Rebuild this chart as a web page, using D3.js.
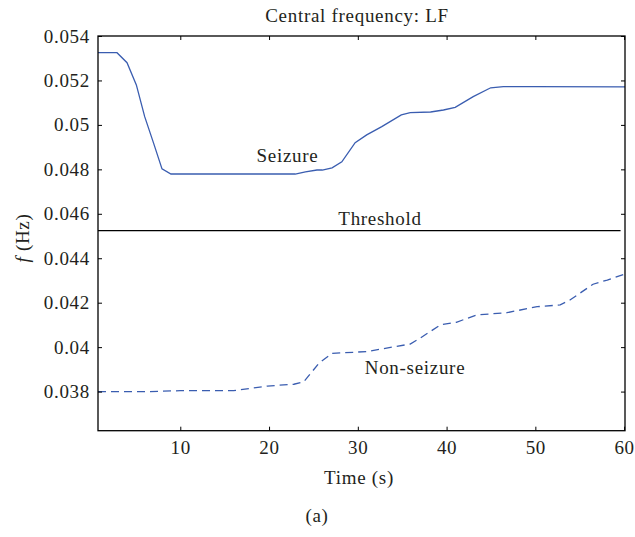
<!DOCTYPE html>
<html>
<head>
<meta charset="utf-8">
<script src="https://cdn.jsdelivr.net/npm/d3@7"></script>
<style>
  html, body { margin: 0; padding: 0; background: #fff; }
  svg text { font-family: "Liberation Serif", "Times New Roman", serif; fill: #231f20; }
</style>
</head>
<body>
<svg id="chart" width="635" height="537"></svg>
<script>
// ---- data ----
const seizureTime  = [0.73, 2.87, 4.0, 5.05, 5.99, 7.0, 7.94, 8.95, 22.95, 24.1, 25.4, 26.0, 27.1, 28.2, 29.7, 31.0, 32.7, 34.9, 35.9, 38.2, 39.65, 40.97, 43.0, 44.97, 46.4, 49.8, 60.1];
const seizureValue = [0.05325, 0.05325, 0.0528, 0.05180, 0.05037, 0.04917, 0.04802, 0.04779, 0.04779, 0.04789, 0.04797, 0.04797, 0.04807, 0.04834, 0.04920, 0.04955, 0.04992, 0.05045, 0.05055, 0.05058, 0.05067, 0.05079, 0.05127, 0.05167, 0.05172, 0.05172, 0.05171];

const nonSeizureTime  = [0.73, 6.6, 10.0, 16.0, 19.8, 22.8, 23.9, 25.0, 25.6, 27.1, 31.0, 35.9, 37.0, 39.3, 41.1, 43.4, 46.8, 50.2, 52.8, 53.9, 56.5, 58.1, 60.1];
const nonSeizureValue = [0.0380, 0.0380, 0.03804, 0.03804, 0.03825, 0.03833, 0.03844, 0.03897, 0.03927, 0.03972, 0.03980, 0.04014, 0.04040, 0.04100, 0.04112, 0.04145, 0.04155, 0.04182, 0.04190, 0.04212, 0.04283, 0.04302, 0.04329];

const thresholdTime  = [0.73, 59.6];
const thresholdValue = [0.04524, 0.04524];

const xTicks = [10, 20, 30, 40, 50, 60];
const xTickLabels = ["10", "20", "30", "40", "50", "60"];
const yTicks = [0.038, 0.040, 0.042, 0.044, 0.046, 0.048, 0.050, 0.052, 0.054];
const yTickLabels = ["0.038", "0.04", "0.042", "0.044", "0.046", "0.048", "0.05", "0.052", "0.054"];

const xDomain = [0.73, 60.1];
const yDomain = [0.03624, 0.054];

// ---- layout ----
const svg = d3.select("#chart");
const margin = { left: 98, top: 36, right: 10, bottom: 106.3 };
const W = 635, H = 537;
const pw = W - margin.left - margin.right;   // 527
const ph = H - margin.top - margin.bottom;   // 394.7

const x = d3.scaleLinear().domain(xDomain).range([0, pw]);
const y = d3.scaleLinear().domain(yDomain).range([ph, 0]);

const g = svg.append("g").attr("transform", `translate(${margin.left},${margin.top})`);

const FS = 19, LS = "0.7px";
const lineColor = "#3a5db0";

// lines
const line = d3.line().x(d => x(d[0])).y(d => y(d[1]));

g.append("path")
  .datum(thresholdTime.map((t, i) => [t, thresholdValue[i]]))
  .attr("d", line).attr("fill", "none").attr("stroke", "#000").attr("stroke-width", 1.3);

g.append("path")
  .datum(seizureTime.map((t, i) => [t, seizureValue[i]]))
  .attr("d", line).attr("fill", "none").attr("stroke", lineColor).attr("stroke-width", 1.3);

g.append("path")
  .datum(nonSeizureTime.map((t, i) => [t, nonSeizureValue[i]]))
  .attr("d", line).attr("fill", "none").attr("stroke", lineColor).attr("stroke-width", 1.3)
  .attr("stroke-dasharray", "8,5");

// axes
function styleAxis(sel) {
  sel.selectAll(".domain").remove();
  sel.selectAll(".tick line").attr("stroke", "#000").attr("stroke-width", 1);
  sel.selectAll("text").attr("font-size", FS).attr("letter-spacing", LS)
     .attr("font-family", "Liberation Serif, serif").attr("fill", "#231f20");
}

g.append("g").attr("transform", `translate(0,${ph})`)
  .call(d3.axisBottom(x).tickValues(xTicks).tickFormat((d, i) => xTickLabels[i]).tickSizeInner(-4).tickSizeOuter(0).tickPadding(10))
  .call(styleAxis);
g.append("g")
  .call(d3.axisTop(x).tickValues(xTicks).tickFormat("").tickSizeInner(-4).tickSizeOuter(0))
  .call(styleAxis);
g.append("g")
  .call(d3.axisLeft(y).tickValues(yTicks).tickFormat((d, i) => yTickLabels[i]).tickSizeInner(-4).tickSizeOuter(0).tickPadding(8))
  .call(styleAxis);
g.append("g").attr("transform", `translate(${pw},0)`)
  .call(d3.axisRight(y).tickValues(yTicks).tickFormat("").tickSizeInner(-4).tickSizeOuter(0))
  .call(styleAxis);

// box
g.append("rect").attr("x", 0).attr("y", 0).attr("width", pw).attr("height", ph)
  .attr("fill", "none").attr("stroke", "#000").attr("stroke-width", 1.3);

// annotations
function label(txt, cx, by) {
  return svg.append("text").attr("x", cx).attr("y", by).attr("text-anchor", "middle")
    .attr("font-size", FS).attr("letter-spacing", LS).text(txt);
}
label("Central frequency: LF", 357, 22);
label("Seizure", 287.5, 161.5);
label("Threshold", 380, 225);
label("Non-seizure", 415, 374);
label("Time (s)", 359, 484);
label("(a)", 317, 522);

const yl = svg.append("text")
  .attr("transform", "translate(29,238) rotate(-90)")
  .attr("text-anchor", "middle").attr("font-size", FS).attr("letter-spacing", LS);
yl.append("tspan").attr("font-style", "italic").text("f");
yl.append("tspan").text(" (Hz)");
</script>
</body>
</html>
